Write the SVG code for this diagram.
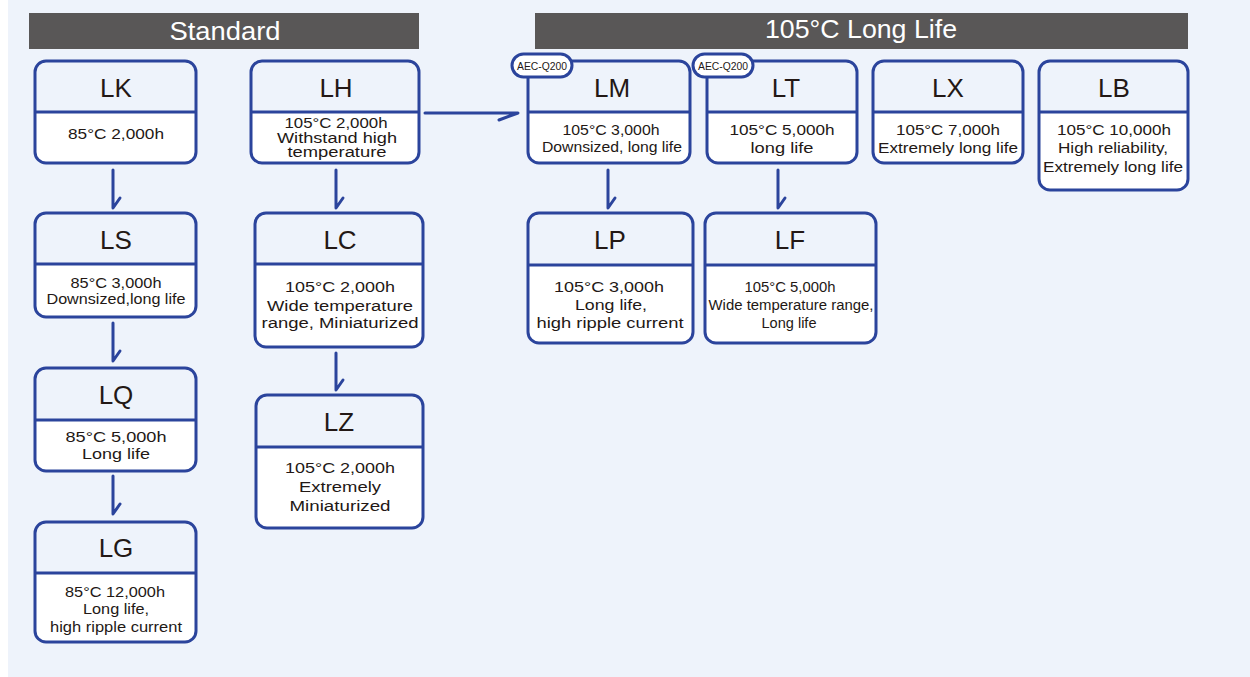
<svg xmlns="http://www.w3.org/2000/svg" width="1250" height="677" viewBox="0 0 1250 677">
<style>
.bg{fill:#EEF3FB}
.box{fill:none;stroke:#2B449C;stroke-width:3}
.body{fill:#FFFFFF}
.div{stroke:#2B449C;stroke-width:3}
.hdr{fill:#595757}
.ht{font-family:"Liberation Sans",Arial,sans-serif;font-size:26px;fill:#FFFFFF;text-anchor:middle}
.t{font-family:"Liberation Sans",Arial,sans-serif;font-size:26px;fill:#231815;text-anchor:middle}
.b{font-family:"Liberation Sans",Arial,sans-serif;font-size:15.5px;fill:#231815;text-anchor:middle}
.bs{font-family:"Liberation Sans",Arial,sans-serif;font-size:14px;fill:#231815;text-anchor:middle}
.pill{fill:#FFFFFF;stroke:#2B449C;stroke-width:3}
.pt{font-family:"Liberation Sans",Arial,sans-serif;font-size:10px;fill:#231815;text-anchor:middle}
.con{fill:none;stroke:#2B449C;stroke-width:3;stroke-linecap:round;stroke-linejoin:round}
</style>
<rect class="bg" x="8" y="0" width="1242" height="677"/>
<g id="header-standard">
<rect class="hdr" x="29" y="13" width="390" height="36"/>
<text class="ht" x="225" y="40" textLength="111" lengthAdjust="spacingAndGlyphs">Standard</text>
</g>
<g id="header-longlife">
<rect class="hdr" x="535" y="13" width="653" height="36"/>
<text class="ht" x="861" y="38" textLength="192" lengthAdjust="spacingAndGlyphs">105°C Long Life</text>
</g>

<g id="connectors">
<path class="con" d="M113,170 V208 L120,198"/>
<path class="con" d="M113,323 V361 L120,351"/>
<path class="con" d="M113,476 V514 L120,504"/>
<path class="con" d="M336,170 V208 L343,198"/>
<path class="con" d="M336,353 V390 L343,380"/>
<path class="con" d="M608,170 V208 L615,198"/>
<path class="con" d="M778,170 V208 L785,198"/>
<path class="con" d="M425,113 H518 L499,120"/>
</g>

<g id="LK">
<path class="body" d="M35,112 H196 V152 A11,11 0 0 1 185,163 H46 A11,11 0 0 1 35,152 Z"/>
<rect class="box" x="35" y="61" width="161" height="102" rx="11"/>
<line class="div" x1="35" y1="112" x2="196" y2="112"/>
<text class="t" x="116" y="97">LK</text>
<text class="b" x="116" y="139" textLength="96" lengthAdjust="spacingAndGlyphs">85°C 2,000h</text>
</g>

<g id="LH">
<path class="body" d="M251,112 H419 V152 A11,11 0 0 1 408,163 H262 A11,11 0 0 1 251,152 Z"/>
<rect class="box" x="251" y="61" width="168" height="102" rx="11"/>
<line class="div" x1="251" y1="112" x2="419" y2="112"/>
<text class="t" x="336" y="97">LH</text>
<text class="bs" x="336" y="128" textLength="103" lengthAdjust="spacingAndGlyphs">105°C 2,000h</text>
<text class="bs" x="337" y="143" textLength="120" lengthAdjust="spacingAndGlyphs">Withstand high</text>
<text class="bs" x="337" y="157" textLength="99" lengthAdjust="spacingAndGlyphs">temperature</text>
</g>

<g id="LM">
<path class="body" d="M528,112 H690 V152 A11,11 0 0 1 679,163 H539 A11,11 0 0 1 528,152 Z"/>
<rect class="box" x="528" y="61" width="162" height="102" rx="11"/>
<line class="div" x1="528" y1="112" x2="690" y2="112"/>
<text class="t" x="612" y="97">LM</text>
<text class="b" x="611" y="135" textLength="97" lengthAdjust="spacingAndGlyphs">105°C 3,000h</text>
<text class="b" x="612" y="152" textLength="140" lengthAdjust="spacingAndGlyphs">Downsized, long life</text>
<rect class="pill" x="512" y="54" width="60" height="23" rx="11.5"/>
<text class="pt" x="542" y="70" textLength="50" lengthAdjust="spacingAndGlyphs">AEC-Q200</text>
</g>

<g id="LT">
<path class="body" d="M707,112 H857 V152 A11,11 0 0 1 846,163 H718 A11,11 0 0 1 707,152 Z"/>
<rect class="box" x="707" y="61" width="150" height="102" rx="11"/>
<line class="div" x1="707" y1="112" x2="857" y2="112"/>
<text class="t" x="786" y="97">LT</text>
<text class="b" x="782" y="135" textLength="105" lengthAdjust="spacingAndGlyphs">105°C 5,000h</text>
<text class="b" x="782" y="153" textLength="63" lengthAdjust="spacingAndGlyphs">long life</text>
<rect class="pill" x="693" y="54" width="60" height="23" rx="11.5"/>
<text class="pt" x="723" y="70" textLength="50" lengthAdjust="spacingAndGlyphs">AEC-Q200</text>
</g>

<g id="LX">
<path class="body" d="M873,112 H1023 V152 A11,11 0 0 1 1012,163 H884 A11,11 0 0 1 873,152 Z"/>
<rect class="box" x="873" y="61" width="150" height="102" rx="11"/>
<line class="div" x1="873" y1="112" x2="1023" y2="112"/>
<text class="t" x="948" y="97">LX</text>
<text class="b" x="948" y="135" textLength="104" lengthAdjust="spacingAndGlyphs">105°C 7,000h</text>
<text class="b" x="948" y="153" textLength="140" lengthAdjust="spacingAndGlyphs">Extremely long life</text>
</g>

<g id="LB">
<path class="body" d="M1039,112 H1188 V179 A11,11 0 0 1 1177,190 H1050 A11,11 0 0 1 1039,179 Z"/>
<rect class="box" x="1039" y="61" width="149" height="129" rx="11"/>
<line class="div" x1="1039" y1="112" x2="1188" y2="112"/>
<text class="t" x="1114" y="97">LB</text>
<text class="b" x="1114" y="135" textLength="114" lengthAdjust="spacingAndGlyphs">105°C 10,000h</text>
<text class="b" x="1113" y="153" textLength="110" lengthAdjust="spacingAndGlyphs">High reliability,</text>
<text class="b" x="1113" y="172" textLength="140" lengthAdjust="spacingAndGlyphs">Extremely long life</text>
</g>

<g id="LS">
<path class="body" d="M35,264 H196 V306 A11,11 0 0 1 185,317 H46 A11,11 0 0 1 35,306 Z"/>
<rect class="box" x="35" y="213" width="161" height="104" rx="11"/>
<line class="div" x1="35" y1="264" x2="196" y2="264"/>
<text class="t" x="116" y="249">LS</text>
<text class="b" x="116" y="288" textLength="91" lengthAdjust="spacingAndGlyphs">85°C 3,000h</text>
<text class="b" x="116" y="304" textLength="139" lengthAdjust="spacingAndGlyphs">Downsized,long life</text>
</g>

<g id="LC">
<path class="body" d="M255,264 H423 V336 A11,11 0 0 1 412,347 H266 A11,11 0 0 1 255,336 Z"/>
<rect class="box" x="255" y="213" width="168" height="134" rx="11"/>
<line class="div" x1="255" y1="264" x2="423" y2="264"/>
<text class="t" x="340" y="249">LC</text>
<text class="b" x="340" y="292" textLength="110" lengthAdjust="spacingAndGlyphs">105°C 2,000h</text>
<text class="b" x="340" y="311" textLength="146" lengthAdjust="spacingAndGlyphs">Wide temperature</text>
<text class="b" x="340" y="328" textLength="157" lengthAdjust="spacingAndGlyphs">range, Miniaturized</text>
</g>

<g id="LQ">
<path class="body" d="M35,420 H196 V460 A11,11 0 0 1 185,471 H46 A11,11 0 0 1 35,460 Z"/>
<rect class="box" x="35" y="368" width="161" height="103" rx="11"/>
<line class="div" x1="35" y1="420" x2="196" y2="420"/>
<text class="t" x="116" y="404">LQ</text>
<text class="b" x="116" y="442" textLength="101" lengthAdjust="spacingAndGlyphs">85°C 5,000h</text>
<text class="b" x="116" y="459" textLength="68" lengthAdjust="spacingAndGlyphs">Long life</text>
</g>

<g id="LG">
<path class="body" d="M35,573 H196 V631 A11,11 0 0 1 185,642 H46 A11,11 0 0 1 35,631 Z"/>
<rect class="box" x="35" y="522" width="161" height="120" rx="11"/>
<line class="div" x1="35" y1="573" x2="196" y2="573"/>
<text class="t" x="116" y="557">LG</text>
<text class="b" x="115" y="597" textLength="100" lengthAdjust="spacingAndGlyphs">85°C 12,000h</text>
<text class="b" x="116" y="614" textLength="66" lengthAdjust="spacingAndGlyphs">Long life,</text>
<text class="b" x="116" y="632" textLength="132" lengthAdjust="spacingAndGlyphs">high ripple current</text>
</g>

<g id="LZ">
<path class="body" d="M256,447 H423 V517 A11,11 0 0 1 412,528 H267 A11,11 0 0 1 256,517 Z"/>
<rect class="box" x="256" y="395" width="167" height="133" rx="11"/>
<line class="div" x1="256" y1="447" x2="423" y2="447"/>
<text class="t" x="339" y="431">LZ</text>
<text class="b" x="340" y="473" textLength="110" lengthAdjust="spacingAndGlyphs">105°C 2,000h</text>
<text class="b" x="340" y="492" textLength="82" lengthAdjust="spacingAndGlyphs">Extremely</text>
<text class="b" x="340" y="511" textLength="101" lengthAdjust="spacingAndGlyphs">Miniaturized</text>
</g>

<g id="LP">
<path class="body" d="M528,265 H693 V332 A11,11 0 0 1 682,343 H539 A11,11 0 0 1 528,332 Z"/>
<rect class="box" x="528" y="213" width="165" height="130" rx="11"/>
<line class="div" x1="528" y1="265" x2="693" y2="265"/>
<text class="t" x="610" y="249">LP</text>
<text class="b" x="609" y="292" textLength="110" lengthAdjust="spacingAndGlyphs">105°C 3,000h</text>
<text class="b" x="611" y="310" textLength="72" lengthAdjust="spacingAndGlyphs">Long life,</text>
<text class="b" x="610" y="328" textLength="147" lengthAdjust="spacingAndGlyphs">high ripple current</text>
</g>

<g id="LF">
<path class="body" d="M705,265 H876 V332 A11,11 0 0 1 865,343 H716 A11,11 0 0 1 705,332 Z"/>
<rect class="box" x="705" y="213" width="171" height="130" rx="11"/>
<line class="div" x1="705" y1="265" x2="876" y2="265"/>
<text class="t" x="790" y="249">LF</text>
<text class="b" x="790" y="292" textLength="91" lengthAdjust="spacingAndGlyphs">105°C 5,000h</text>
<text class="b" x="791" y="310" textLength="165" lengthAdjust="spacingAndGlyphs">Wide temperature range,</text>
<text class="b" x="789" y="328" textLength="55" lengthAdjust="spacingAndGlyphs">Long life</text>
</g>
</svg>
